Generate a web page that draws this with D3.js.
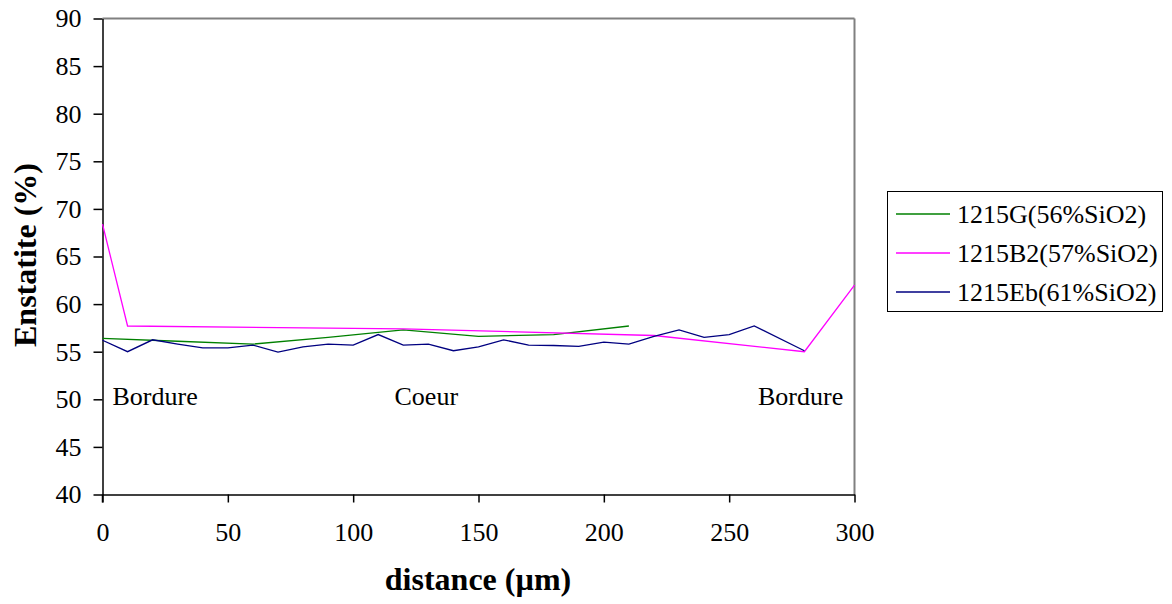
<!DOCTYPE html>
<html>
<head>
<meta charset="utf-8">
<script src="https://cdn.jsdelivr.net/npm/d3@7"></script>
<style>
html,body{margin:0;padding:0;background:#fff;}
svg{display:block;font-family:"Liberation Serif","Times New Roman",serif;}
</style>
</head>
<body>
<svg id="chart" width="1172" height="604"></svg>
<script>
// ---- data ----
const xTicks = [0, 50, 100, 150, 200, 250, 300];
const yTicks = [40, 45, 50, 55, 60, 65, 70, 75, 80, 85, 90];

const seriesNames = ["1215G(56%SiO2)", "1215B2(57%SiO2)", "1215Eb(61%SiO2)"];
const seriesColors = ["#008000", "#FF00FF", "#000080"];

const gX = [0, 30, 60, 90, 120, 150, 180, 210];
const gY = [56.4, 56.1, 55.8, 56.5, 57.3, 56.6, 56.8, 57.7];

const b2X = [0, 10, 120, 220, 280, 300];
const b2Y = [68.4, 57.7, 57.4, 56.7, 55.0, 62.0];

const ebX = [0, 10, 20, 30, 40, 50, 60, 70, 80, 90, 100, 110, 120, 130, 140, 150, 160, 170, 180, 190, 200, 210, 220, 230, 240, 250, 260, 280];
const ebY = [56.2, 55.0, 56.25, 55.8, 55.4, 55.4, 55.7, 54.95, 55.5, 55.8, 55.7, 56.8, 55.7, 55.8, 55.1, 55.5, 56.25, 55.7, 55.65, 55.55, 56.0, 55.8, 56.6, 57.3, 56.5, 56.8, 57.7, 55.1];

const annotations = [
  {text: "Bordure", x: 4, y: 49.35},
  {text: "Coeur", x: 116.5, y: 49.35},
  {text: "Bordure", x: 261.5, y: 49.35}
];

// ---- layout ----
const svg = d3.select("#chart");
const pL = 102.5, pR = 854.5, pT = 18.5, pB = 494.5;

const x = d3.scaleLinear().domain([0, 300]).range([pL, pR]);
const y = d3.scaleLinear().domain([40, 90]).range([pB, pT]);

// frame: top and right gray
svg.append("line").attr("x1", pL).attr("x2", pR).attr("y1", pT).attr("y2", pT)
  .attr("stroke", "#808080").attr("stroke-width", 2);
svg.append("line").attr("x1", pR).attr("x2", pR).attr("y1", pT).attr("y2", pB)
  .attr("stroke", "#808080").attr("stroke-width", 2);

// axes
const xAxis = d3.axisBottom(x).tickValues(xTicks).tickSize(8).tickPadding(20).tickSizeOuter(0);
const gx = svg.append("g").attr("transform", `translate(0,${pB})`).call(xAxis);
gx.selectAll("text").attr("font-size", 26).attr("font-family", "Liberation Serif").attr("fill", "#000");
gx.selectAll("line,path").attr("stroke", "#000").attr("stroke-width", 1.5);

const yAxis = d3.axisLeft(y).tickValues(yTicks).tickSize(9).tickPadding(12).tickSizeOuter(0);
const gy = svg.append("g").attr("transform", `translate(${pL},0)`).call(yAxis);
gy.selectAll("text").attr("font-size", 26).attr("font-family", "Liberation Serif").attr("fill", "#000");
gy.selectAll("line,path").attr("stroke", "#000").attr("stroke-width", 1.5);
svg.append("line").attr("x1", pL).attr("x2", pL).attr("y1", pB).attr("y2", pB + 8)
  .attr("stroke", "#000").attr("stroke-width", 1.5);

// series
const line = d3.line().x(d => x(d[0])).y(d => y(d[1]));
const series = [
  d3.zip(gX, gY),
  d3.zip(b2X, b2Y),
  d3.zip(ebX, ebY)
];
series.forEach((s, i) => {
  svg.append("path").datum(s).attr("d", line)
    .attr("fill", "none").attr("stroke", seriesColors[i]).attr("stroke-width", 1.3)
    .attr("stroke-linejoin", "miter");
});

// annotations
annotations.forEach(a => {
  svg.append("text").attr("x", x(a.x)).attr("y", y(a.y))
    .attr("font-size", 26).attr("fill", "#000").text(a.text);
});

// axis titles
svg.append("text").attr("x", 478).attr("y", 590).attr("text-anchor", "middle")
  .attr("font-size", 32).attr("font-weight", "bold").text("distance (µm)");
svg.append("text").attr("transform", "translate(36,255) rotate(-90)").attr("text-anchor", "middle")
  .attr("font-size", 32).attr("font-weight", "bold").text("Enstatite (%)");

// legend
const lg = svg.append("g");
lg.append("rect").attr("x", 887.5).attr("y", 191.5).attr("width", 275).attr("height", 120)
  .attr("fill", "#fff").attr("stroke", "#000").attr("stroke-width", 1);
const rowY = [214, 253, 292];
seriesNames.forEach((n, i) => {
  lg.append("line").attr("x1", 896).attr("x2", 950).attr("y1", rowY[i]).attr("y2", rowY[i])
    .attr("stroke", seriesColors[i]).attr("stroke-width", 1.3);
  lg.append("text").attr("x", 957).attr("y", rowY[i]).attr("dy", "0.35em")
    .attr("font-size", 26).attr("fill", "#000").text(n);
});
</script>
</body>
</html>
